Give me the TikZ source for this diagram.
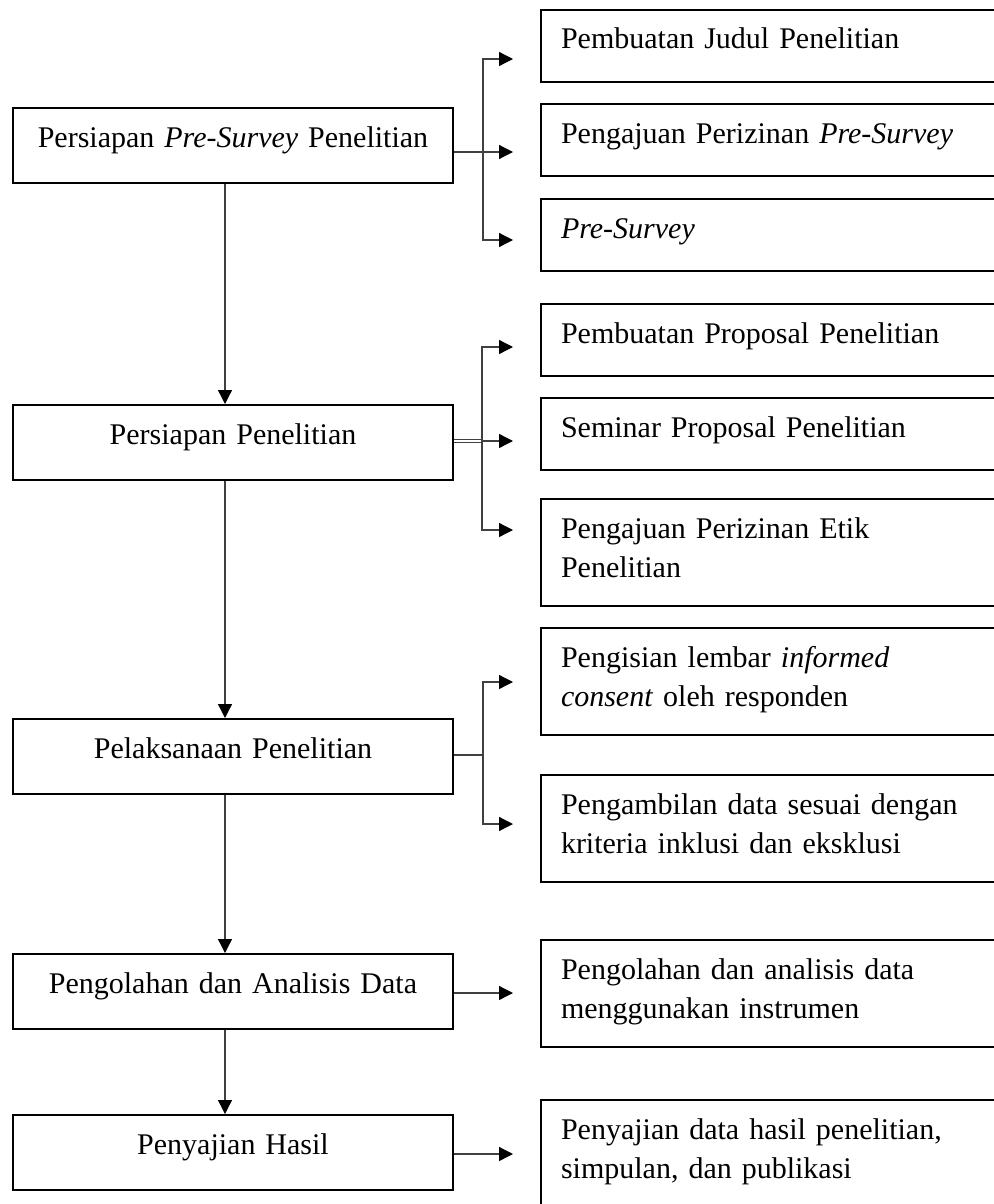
\documentclass[tikz,border=0pt]{standalone}
\usepackage{fontspec}
\setmainfont{Liberation Serif}
\usetikzlibrary{calc,arrows.meta}

\tikzset{
    txt/.style={font=\fontsize{30}{39}\selectfont},
    lbox/.style={txt, draw, line width=2pt, anchor=north west, inner xsep=0pt,
        inner ysep=0pt, text width=440pt, align=center, text height=39pt,
        text depth=36pt},
    rbox/.style={txt, draw, line width=2pt, anchor=north west, inner xsep=20pt,
        inner ysep=0pt, text width=420pt, align=left, text height=39pt,
        text depth=33pt},
    rboxtwo/.style={rbox, text depth=68pt},
    conn/.style={draw=black!75, line width=1.3pt},
    arr/.style={conn, -{Triangle[length=14pt,width=14pt,color=black]}},
}

\begin{document}
\begin{tikzpicture}[x=1pt, y=-1pt]
    \useasboundingbox (0,0) rectangle (993,1204);

    % main steps
    \node[lbox] (b1) at (12,107) {Persiapan \textit{Pre-Survey} Penelitian};
    \node[lbox] (b2) at (12,404) {Persiapan Penelitian};
    \node[lbox] (b3) at (12,718) {Pelaksanaan Penelitian};
    \node[lbox] (b4) at (12,953) {Pengolahan dan Analisis Data};
    \node[lbox] (b5) at (12,1114) {Penyajian Hasil};

    % sub steps
    \node[rbox] (r1a) at (540,9) {Pembuatan Judul Penelitian};
    \node[rbox] (r1b) at (540,103) {Pengajuan Perizinan \textit{Pre-Survey}};
    \node[rbox] (r1c) at (540,198) {\textit{Pre-Survey}};
    \node[rbox] (r2a) at (540,303) {Pembuatan Proposal Penelitian};
    \node[rbox] (r2b) at (540,397) {Seminar Proposal Penelitian};
    \node[rboxtwo] (r2c) at (540,498) {Pengajuan Perizinan Etik\\Penelitian};
    \node[rboxtwo] (r3a) at (540,627) {Pengisian lembar \textit{informed}\\\textit{consent} oleh responden};
    \node[rboxtwo] (r3b) at (540,774) {Pengambilan data sesuai dengan\\kriteria inklusi dan eksklusi};
    \node[rboxtwo] (r4) at (540,939) {Pengolahan dan analisis data\\menggunakan instrumen};
    \node[rboxtwo] (r5) at (540,1099) {Penyajian data hasil penelitian,\\simpulan, dan publikasi};

    % arrow ends and junctions
    \foreach \n/\y in {1a/59, 1b/152, 1c/240, 2a/347, 2b/441, 2c/530,
        3a/682, 3b/824, 4/993, 5/1154}
        \coordinate (t\n) at (513,\y);
    \coordinate (j1) at (483,152);
    \coordinate (j2) at (482,441);
    \coordinate (j3) at (483,755);

    % down the main column
    \foreach \a/\b in {b1/b2, b2/b3, b3/b4, b4/b5}
        \draw[arr] ([xshift=-8pt]\a.south) -- ([xshift=-8pt]\b.north);

    % branches
    \draw[conn] (b1.east |- j1) -- (j1);
    \foreach \k in {a,b,c}
        \draw[arr] (j1) |- (t1\k);

    \draw[conn, double, double distance=1.5pt, line width=0.8pt] (b2.east |- j2) -- (j2);
    \foreach \k in {a,b,c}
        \draw[arr] (j2) |- (t2\k);

    \draw[conn] (b3.east |- j3) -- (j3);
    \foreach \k in {a,b}
        \draw[arr] (j3) |- (t3\k);

    \draw[arr] (b4.east |- t4) -- (t4);
    \draw[arr] (b5.east |- t5) -- (t5);

\end{tikzpicture}
\end{document}
